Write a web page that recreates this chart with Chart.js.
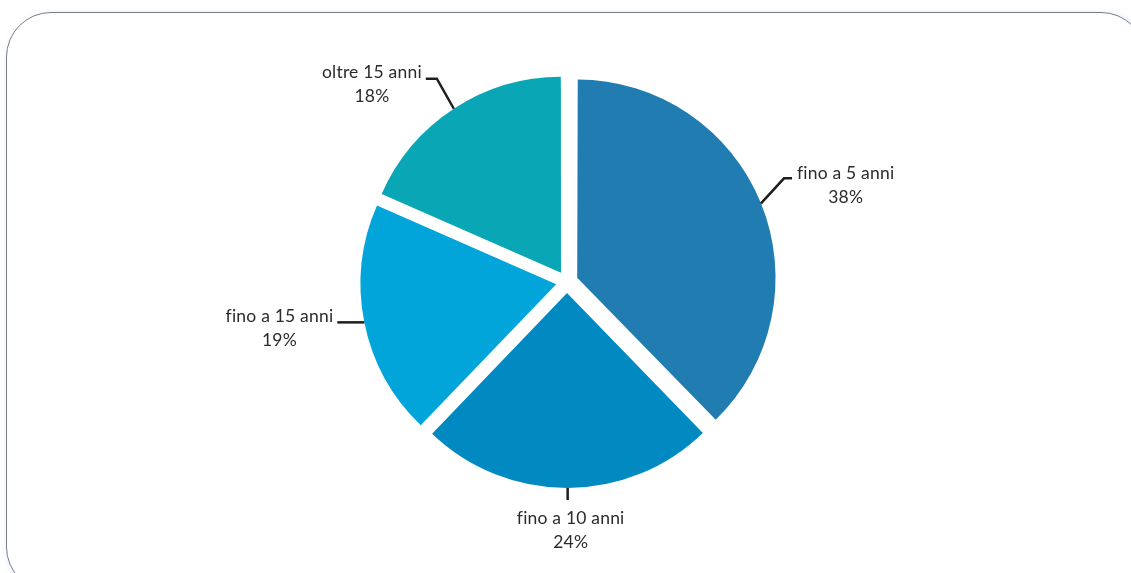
<!DOCTYPE html>
<html>
<head>
<meta charset="utf-8">
<script src="https://cdn.jsdelivr.net/npm/chart.js@4"></script>
<style>
    html, body { margin: 0; padding: 0; background: #fff; overflow: hidden; }
    #frame {
        position: absolute; left: 6px; top: 12px; width: 1140px; height: 580px;
        border: 1px solid #7a7d8a; border-radius: 45px; box-sizing: border-box;
        box-shadow: 2px 2px 6px rgba(150, 180, 240, 0.45);
    }
    #wrap { position: absolute; left: 0; top: 0; width: 1131px; height: 573px; }
</style>
</head>
<body>
<div id="frame"></div>
<div id="wrap"><canvas id="pie"></canvas></div>
<script>
const categories = ['fino a 5 anni', 'fino a 10 anni', 'fino a 15 anni', 'oltre 15 anni'];
const shares = [37.7, 24.4, 19.4, 18.4];
const sliceColors = ['#217db1', '#0189c2', '#01a5d9', '#09a6b5'];

// leader lines: elbow offset from the arc edge, horizontal tail, side of the text
const leaders = [
    { dx: 23, dy: -25, tail: 8, side: 'right' },
    { dx: 0, dy: 12, tail: 0, side: 'below' },
    { dx: -27, dy: 0, tail: 0, side: 'left' },
    { dx: -17, dy: -30, tail: -11, side: 'left' }
];

const pieLabels = {
    id: 'pieLabels',
    afterDatasetsDraw(chart) {
        const c = chart.ctx;
        const meta = chart.getDatasetMeta(0);
        const shift = chart.data.datasets[0].offset / 4;
        c.save();
        c.font = '17.5px Lato';
        c.letterSpacing = '0.2px';
        c.fillStyle = '#2b2b2b';
        c.strokeStyle = '#1e1e1e';
        c.lineWidth = 2.5;
        c.textBaseline = 'middle';
        c.textAlign = 'center';
        meta.data.forEach((arc, i) => {
            const p = arc.getProps(['x', 'y', 'startAngle', 'endAngle', 'outerRadius', 'circumference'], true);
            const mid = (p.startAngle + p.endAngle) / 2;
            const fix = 1 - Math.sin(Math.min(Math.PI, p.circumference));
            const r = p.outerRadius + shift * fix + shift;
            const ax = p.x + Math.cos(mid) * r;
            const ay = p.y + Math.sin(mid) * r;
            const l = leaders[i];
            const ex = ax + l.dx, ey = ay + l.dy;
            const tx = ex + l.tail;
            c.beginPath();
            c.moveTo(ax, ay);
            c.lineTo(ex, ey);
            c.lineTo(tx, ey);
            c.stroke();
            const lines = [categories[i], Math.round(shares[i]) + '%'];
            const w = Math.max(...lines.map(s => c.measureText(s).width));
            let cx, cy;
            if (l.side === 'right') { cx = tx + 5 + w / 2; cy = ey - 5; }
            else if (l.side === 'left') { cx = tx - 4 - w / 2; cy = ey - 6; }
            else { cx = tx + 3; cy = ey + 18; }
            lines.forEach((s, k) => c.fillText(s, cx, cy + k * 24));
        });
        c.restore();
    }
};

new Chart(document.getElementById('pie'), {
    type: 'pie',
    data: {
        labels: categories,
        datasets: [{
            data: shares,
            backgroundColor: sliceColors,
            borderWidth: 0,
            offset: 44,
            radius: 195
        }]
    },
    options: {
        responsive: true,
        maintainAspectRatio: false,
        animation: false,
        layout: { padding: { left: 3, right: 0, top: 82, bottom: 91 } },
        plugins: {
            legend: { display: false },
            tooltip: { enabled: false }
        }
    },
    plugins: [pieLabels]
});
</script>
</body>
</html>
